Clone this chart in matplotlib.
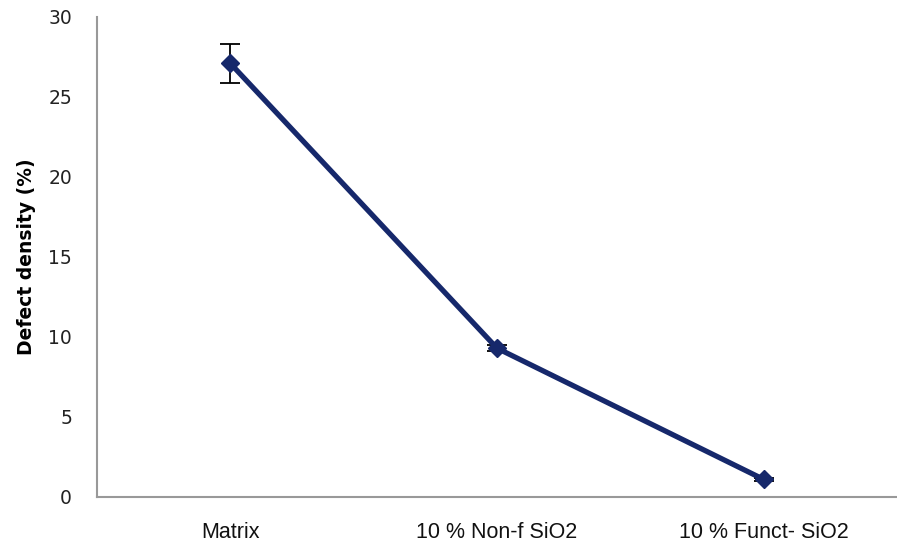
import matplotlib
matplotlib.use("Agg")
import matplotlib.pyplot as plt

categories = ["Matrix", "10 % Non-f SiO2", "10 % Funct- SiO2"]
defect_density = [27.1, 9.3, 1.1]
errors = [1.2, 0.2, 0.1]
yticks = [0, 5, 10, 15, 20, 25, 30]

fig = plt.figure(figsize=(8.97, 5.51), dpi=100)
ax = fig.add_axes([97/897, 54/551, 800/897, 480/551])

x = list(range(len(categories)))
# error bars drawn first, then the navy line with diamonds on top
ax.errorbar(x, defect_density, yerr=errors, fmt='none', ecolor='black',
            elinewidth=1.3, capsize=7, capthick=1.3, zorder=2)
ax.plot(x, defect_density, color='#16286B', linewidth=3.8,
        marker='D', markersize=9.5, zorder=3)

ax.set_xlim(-0.5, 2.5)
ax.set_ylim(0, 30)
ax.set_yticks(yticks)
ax.set_xticks(x)
ax.set_xticklabels(categories, fontsize=15.5, family='Liberation Sans', color='#111111')
ax.tick_params(axis='both', length=0)
ax.tick_params(axis='y', pad=18, labelsize=13.5, labelcolor='#222222')
ax.tick_params(axis='x', pad=18)

ax.set_ylabel("Defect density (%)", fontsize=13.5, fontweight='bold', labelpad=9)

for s in ['top', 'right']:
    ax.spines[s].set_visible(False)
for s in ['left', 'bottom']:
    ax.spines[s].set_color('#999999')
    ax.spines[s].set_linewidth(1.5)

fig.savefig("out.png", dpi=100)
